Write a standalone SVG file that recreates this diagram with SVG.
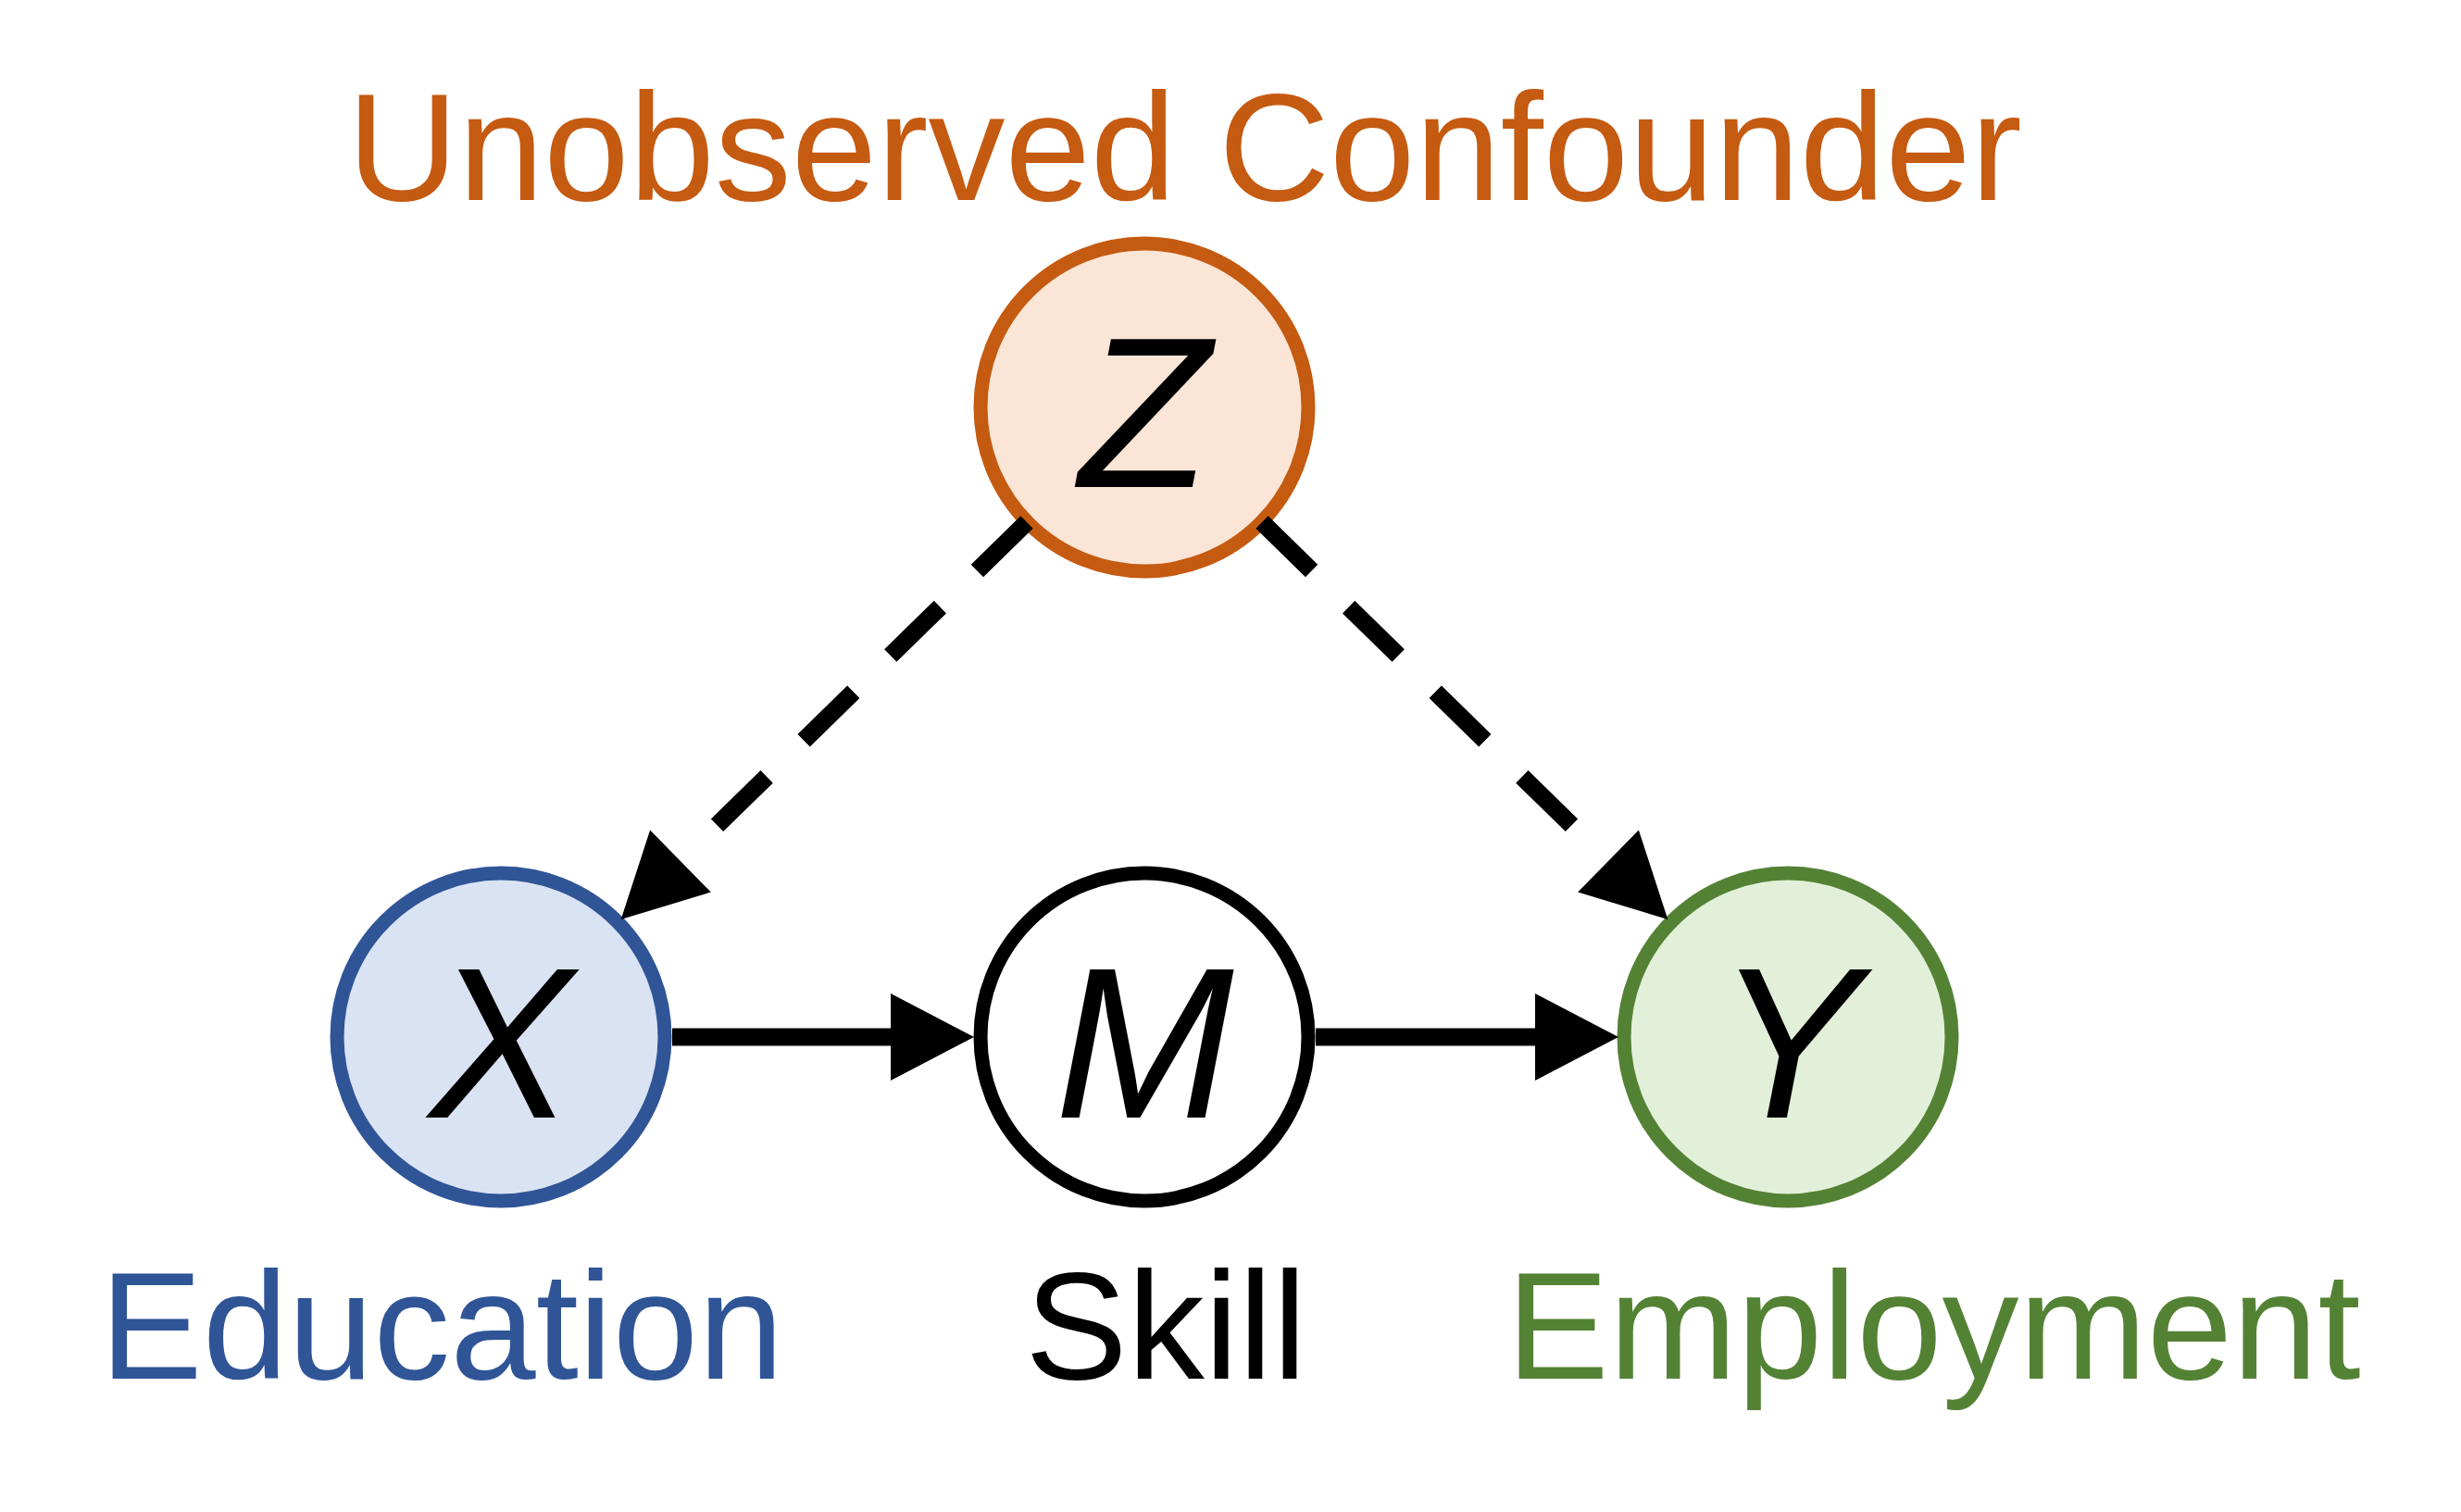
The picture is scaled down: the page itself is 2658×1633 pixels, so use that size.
<svg xmlns="http://www.w3.org/2000/svg" width="2658" height="1633" viewBox="0 0 2658 1633">
  <style>
    .node { stroke-width: 15; }
    .var { font-family: "Liberation Sans", Arial, sans-serif; font-style: italic; font-size: 232px; fill: #000000; text-anchor: middle; }
    .lbl { font-family: "Liberation Sans", Arial, sans-serif; font-size: 166px; }
    .edge { stroke: #000000; stroke-width: 19; fill: none; }
    .dashed { stroke-dasharray: 75 56; }
  </style>
  <defs>
    <marker id="arrow" markerUnits="userSpaceOnUse" viewBox="0 -47 90 94" markerWidth="90" markerHeight="94" refX="0" refY="0" orient="auto" overflow="visible">
      <path d="M0,-47 L90,0 L0,47 Z" fill="#000000"/>
    </marker>
  </defs>
  <rect width="2658" height="1633" fill="#ffffff"/>

  <text class="lbl" x="375" y="216" fill="#C55A11">Unobserved Confounder</text>

  <g id="node-Z">
    <circle class="node" cx="1236" cy="440" r="177" fill="#FBE5D6" stroke="#C55A11"/>
    <text class="var" x="1236" y="526">Z</text>
  </g>
  <g id="node-X">
    <circle class="node" cx="541" cy="1120" r="177" fill="#DAE3F3" stroke="#2F5597"/>
    <text class="var" x="541" y="1207">X</text>
  </g>
  <g id="node-M">
    <circle class="node" cx="1236" cy="1120" r="177" fill="#FFFFFF" stroke="#000000"/>
    <text class="var" x="1236" y="1207">M</text>
  </g>
  <g id="node-Y">
    <circle class="node" cx="1931" cy="1120" r="177" fill="#E2F0D9" stroke="#548235"/>
    <text class="var" x="1931" y="1207">Y</text>
  </g>

  <g id="connectors">
    <line class="edge dashed" x1="1109" y1="564" x2="735" y2="930" marker-end="url(#arrow)"/>
    <line class="edge dashed" x1="1363" y1="564" x2="1737" y2="930" marker-end="url(#arrow)"/>
    <line class="edge" x1="726" y1="1120" x2="962" y2="1120" marker-end="url(#arrow)"/>
    <line class="edge" x1="1421" y1="1120" x2="1658" y2="1120" marker-end="url(#arrow)"/>
  </g>

  <text class="lbl" x="108" y="1489" fill="#2F5597">Education</text>
  <text class="lbl" x="1107" y="1489" fill="#000000">Skill</text>
  <text class="lbl" x="1627" y="1489" fill="#548235">Employment</text>
</svg>
